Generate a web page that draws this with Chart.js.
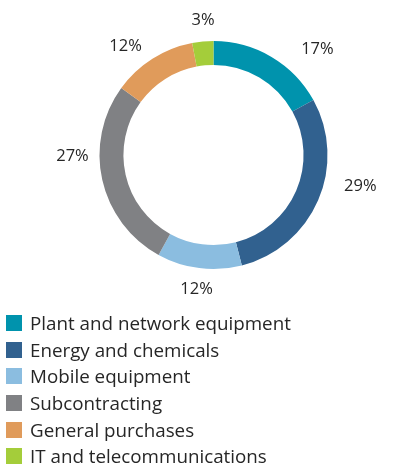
<!DOCTYPE html>
<html>
<head>
<meta charset="utf-8">
<script src="https://cdn.jsdelivr.net/npm/chart.js@4/dist/chart.umd.min.js"></script>
<style>
    html, body { margin: 0; padding: 0; background: #fff; }
    #wrap { position: relative; width: 417px; height: 469px; }
    #legend { position: absolute; left: 6px; top: 310px; font-family: "Open Sans", sans-serif; font-size: 18.8px; color: #262626; }
    #legend .row { height: 26.6px; display: flex; align-items: center; }
    #legend .box { width: 16px; height: 16px; margin-right: 8px; }
</style>
</head>
<body>
<div id="wrap">
    <canvas id="pieChart" width="417" height="469"></canvas>
    <div id="legend"></div>
</div>
<script>
// 数据
const categories = ['Plant and network equipment', 'Energy and chemicals', 'Mobile equipment', 'Subcontracting', 'General purchases', 'IT and telecommunications'];
const shares = [17, 29, 12, 27, 12, 3];
const colors = ['#0093ad', '#31618f', '#8bbde0', '#808184', '#e09b5b', '#a4cd3a'];

/**
 * 百分比标签
 */
const labelPlugin = {
    id: 'pctLabels',
    afterDatasetsDraw(chart, args, opts) {
        const ctx = chart.ctx;
        const meta = chart.getDatasetMeta(0);
        ctx.save();
        ctx.font = '16.5px "Open Sans", sans-serif';
        ctx.fillStyle = '#262626';
        ctx.textAlign = 'center';
        ctx.textBaseline = 'middle';
        meta.data.forEach(function (arc, i) {
            //标签微调（角度，距离）
            let nudge = opts.nudge[i] || [0, 0];
            let mid = (arc.startAngle + arc.endAngle) / 2 + nudge[0] * Math.PI / 180;
            let r = arc.outerRadius + nudge[1];
            let x = arc.x + Math.cos(mid) * r;
            let y = arc.y + Math.sin(mid) * r;
            ctx.fillText(shares[i] + '%', x, y);
        });
        ctx.restore();
    }
};

function init() {
    let html = '';
    categories.forEach(function (c, i) {
        html += '<div class="row"><span class="box" style="background:' + colors[i] + '"></span>' + c + '</div>';
    });
    document.getElementById('legend').innerHTML = html;

    const config = {
        type: 'doughnut',
        data: {
            labels: categories,
            datasets: [{
                data: shares,
                backgroundColor: colors,
                borderWidth: 0
            }]
        },
        options: {
            responsive: false,
            animation: false,
            cutout: '79%',
            layout: { padding: { left: 99.5, right: 89.5, top: 41, bottom: 200 } },
            plugins: {
                legend: { display: false },
                tooltip: { enabled: false },
                pctLabels: { nudge: [[14, 34], [-11.5, 36], [0, 21], [12, 27], [-6.5, 26], [1, 21]] }
            }
        },
        plugins: [labelPlugin]
    };
    new Chart(document.getElementById('pieChart').getContext('2d'), config);
}

init();
</script>
</body>
</html>
